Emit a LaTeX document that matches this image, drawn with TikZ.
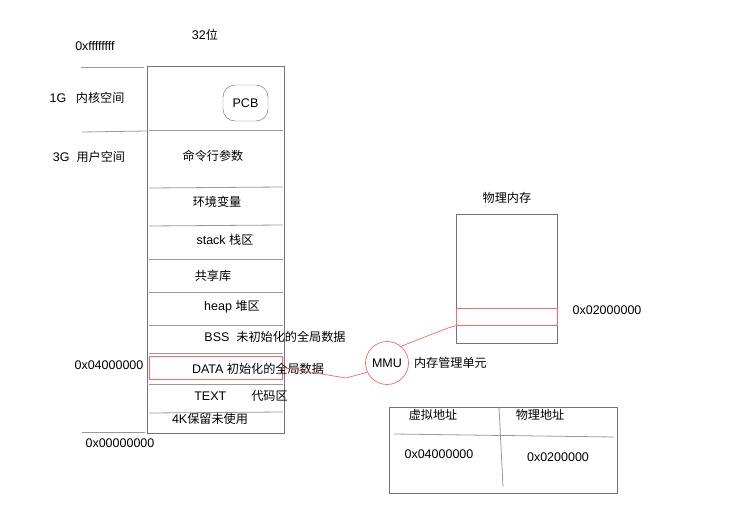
\documentclass[tikz,border=0pt]{standalone}
\usepackage{fontspec}
\setmainfont{Liberation Sans}
\newfontfamily\cjk[Scale=0.97]{Noto Sans CJK SC}
\usetikzlibrary{positioning}

\begin{document}
\begin{tikzpicture}[
    x=1pt, y=-1pt,
    every node/.style={font=\fontsize{12.5}{14}\selectfont, inner sep=1pt},
    frame/.style={draw=black!55, line width=0.8pt},
    divider/.style={draw=black!40, line width=0.8pt},
    hilite/.style={draw=red!60, line width=0.7pt}
]
\useasboundingbox (0,0) rectangle (738,508);

% virtual address space
\draw[frame] (147,66) rectangle (284,433);
\draw[divider] (81,67) -- (144,67);
\draw[divider] (82,132) -- (147,131);
\draw[divider] (82,432) -- (145,432);
\foreach \ya/\yb in {130/130, 188/187, 226/225, 259/259, 292/292, 325/325, 353/353, 384/384, 413/412}
    \draw[divider] (149,\ya) -- (283,\yb);

\node (bits) at (205,35) {32{\cjk 位}};
\node (topaddr) at (95,46) {0xffffffff};
\node (kernel) at (87,98) {1G\enspace\ {\cjk 内核空间}};
\node (user) at (89,157) {3G\ \ {\cjk 用户空间}};
\node (dataaddr) at (109,365) {0x04000000};
\node (zeroaddr) at (120,443) {0x00000000};

\node[draw=black!60, rounded corners=12pt, minimum width=45pt, minimum height=36pt] (pcb) at (245.5,103) {PCB};
\node (args) at (213,156) {\cjk 命令行参数};
\node (env) at (217,202) {\cjk 环境变量};
\node (stack) at (225,240) {stack {\cjk 栈区}};
\node (shlib) at (213,276) {\cjk 共享库};
\node (heap) at (232,307) {heap {\cjk 堆区}};
\node (bss) at (275,337) {BSS\ \ {\cjk 未初始化的全局数据}};
\node[hilite, minimum width=133pt, minimum height=23pt] (datahl) at (215.5,367.5) {};
\node (data) at (258,369) {DATA {\cjk 初始化的全局数据}};
\node (text) at (241,396) {TEXT\qquad {\cjk 代码区}};
\node (reserved) at (210,419) {4K{\cjk 保留未使用}};

% MMU
\node[hilite, circle, minimum size=43pt] (mmu) at (387,363) {MMU};
\node[right=4pt of mmu] (mmulabel) {\cjk 内存管理单元};

% physical memory
\node[frame, anchor=north west, minimum width=101pt, minimum height=129pt] (pmem) at (456,214) {};
\node[above=9pt of pmem] (pmemtitle) {\cjk 物理内存};
\node[hilite, anchor=north west, minimum width=101pt, minimum height=17pt] (pframe) at (456,308) {};
\node (paddr) at (607,310) {0x02000000};

\draw[hilite] (datahl.east) -- (346,378) -- (mmu.205);
\draw[hilite] (mmu.50) -- (448,328) -- (pframe.south west);

% mapping table
\draw[frame] (389,407) rectangle (617,493);
\draw[divider] (394,434) -- (614,437);
\draw[divider] (499,407) -- (503,487);
\node (vhead) at (433,415) {\cjk 虚拟地址};
\node (phead) at (540,415) {\cjk 物理地址};
\node (vval) at (439,454) {0x04000000};
\node (pval) at (558,457) {0x0200000};
\end{tikzpicture}
\end{document}
